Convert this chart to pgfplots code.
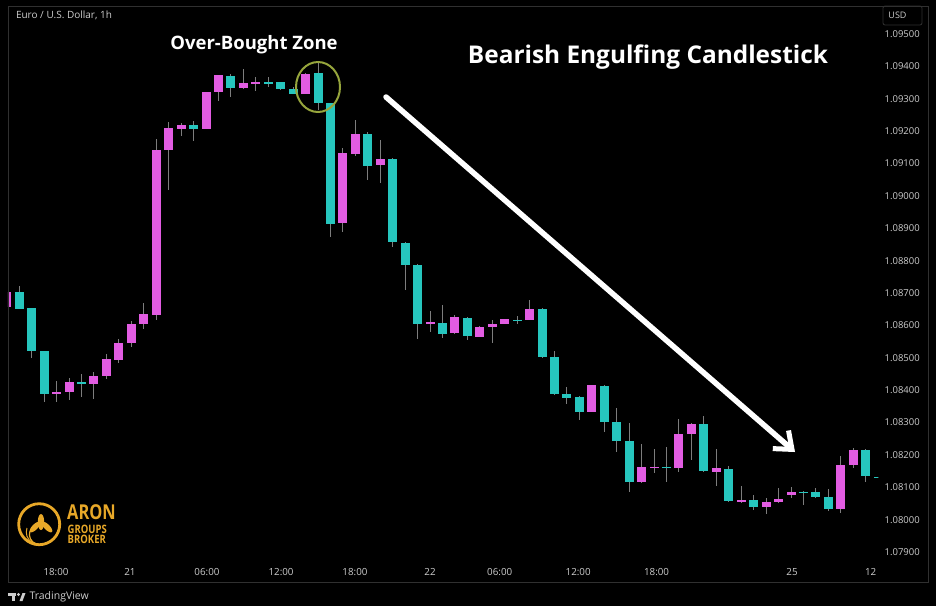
\documentclass[border=0pt]{standalone}
\usepackage{pgfplots}
\pgfplotsset{compat=1.18}
\usepackage{pgfplotstable}
\usepackage{graphicx}
\usepackage{fontspec}
\setmainfont{Open Sans}
\usetikzlibrary{arrows.meta}
\definecolor{bull}{RGB}{226,92,226}
\definecolor{bear}{RGB}{38,198,190}
\definecolor{wick}{RGB}{125,125,125}
\definecolor{framec}{RGB}{48,48,48}
\definecolor{lbl}{RGB}{205,205,205}
\definecolor{gold}{RGB}{232,168,40}
\definecolor{ringc}{RGB}{150,165,60}

% magenta (rising) candles: k open high low close
\pgfplotstableread{
k o h l c
0 1.08657 1.08706 1.08656 1.08704
4 1.08390 1.08428 1.08364 1.08396
5 1.08395 1.08438 1.08371 1.08426
7 1.08421 1.08457 1.08372 1.08445
8 1.08444 1.08511 1.08436 1.08498
9 1.08495 1.08560 1.08486 1.08547
10 1.08546 1.08614 1.08534 1.08606
11 1.08606 1.08671 1.08588 1.08635
12 1.08635 1.09178 1.08618 1.09144
13 1.09142 1.09229 1.09018 1.09209
14 1.09207 1.09226 1.09185 1.09218
16 1.09206 1.09322 1.09206 1.09322
17 1.09320 1.09372 1.09294 1.09372
19 1.09334 1.09391 1.09329 1.09351
20 1.09350 1.09368 1.09327 1.09353
24 1.09316 1.09380 1.09315 1.09379
27 1.08915 1.09147 1.08889 1.09131
28 1.09130 1.09235 1.09123 1.09193
30 1.09095 1.09172 1.09039 1.09115
34 1.08604 1.08645 1.08580 1.08610
36 1.08576 1.08632 1.08574 1.08625
38 1.08567 1.08598 1.08565 1.08596
39 1.08597 1.08618 1.08548 1.08605
40 1.08606 1.08621 1.08604 1.08619
42 1.08618 1.08680 1.08617 1.08652
47 1.08333 1.08417 1.08331 1.08415
51 1.08117 1.08235 1.08115 1.08162
52 1.08161 1.08218 1.08143 1.08164
54 1.08160 1.08313 1.08148 1.08266
55 1.08266 1.08299 1.08184 1.08297
57 1.08148 1.08218 1.08103 1.08158
59 1.08055 1.08106 1.08052 1.08060
61 1.08039 1.08068 1.08019 1.08055
62 1.08055 1.08098 1.08053 1.08065
63 1.08076 1.08103 1.08068 1.08084
67 1.08034 1.08199 1.08021 1.08168
68 1.08168 1.08222 1.08158 1.08217
}\bulltab

% cyan (falling) candles
\pgfplotstableread{
k o h l c
1 1.08704 1.08721 1.08650 1.08652
2 1.08654 1.08654 1.08501 1.08521
3 1.08521 1.08521 1.08364 1.08390
6 1.08426 1.08449 1.08379 1.08421
15 1.09218 1.09232 1.09170 1.09206
18 1.09372 1.09376 1.09306 1.09334
21 1.09353 1.09368 1.09337 1.09348
22 1.09351 1.09353 1.09328 1.09330
23 1.09330 1.09337 1.09314 1.09316
25 1.09379 1.09414 1.09267 1.09286
26 1.09288 1.09288 1.08874 1.08915
29 1.09194 1.09200 1.09049 1.09095
31 1.09115 1.09117 1.08843 1.08858
32 1.08856 1.08858 1.08709 1.08788
33 1.08788 1.08790 1.08557 1.08605
35 1.08609 1.08663 1.08563 1.08575
37 1.08625 1.08627 1.08557 1.08567
41 1.08619 1.08632 1.08607 1.08617
43 1.08652 1.08654 1.08500 1.08503
44 1.08503 1.08521 1.08388 1.08390
45 1.08388 1.08410 1.08359 1.08377
46 1.08379 1.08381 1.08309 1.08333
48 1.08415 1.08417 1.08271 1.08302
49 1.08303 1.08346 1.08209 1.08245
50 1.08245 1.08297 1.08085 1.08117
53 1.08164 1.08225 1.08117 1.08160
56 1.08297 1.08320 1.08148 1.08150
58 1.08158 1.08168 1.08055 1.08057
60 1.08060 1.08076 1.08029 1.08039
64 1.08086 1.08088 1.08045 1.08084
65 1.08086 1.08099 1.08068 1.08070
66 1.08072 1.08096 1.08027 1.08034
69 1.08217 1.08219 1.08117 1.08137
70 1.08133 1.08133 1.08131 1.08131
}\beartab

\begin{document}
\begin{tikzpicture}
\useasboundingbox (0pt,0pt) rectangle (936pt,-606pt);
\fill[black] (0pt,0pt) rectangle (936pt,-606pt);
\begin{axis}[
  at={(8pt,-582pt)}, anchor=south west,
  scale only axis, width=870pt, height=576pt,
  xmin=0.092, xmax=69.99,
  ymin=1.078073, ymax=1.095865,
  axis line style={draw=none},
  tick style={draw=none},
  major tick length=0pt,
  ytick={1.079,1.080,1.081,1.082,1.083,1.084,1.085,1.086,1.087,1.088,1.089,1.090,1.091,1.092,1.093,1.094,1.095},
  yticklabels={1.07900,1.08000,1.08100,1.08200,1.08300,1.08400,1.08500,1.08600,1.08700,1.08800,1.08900,1.09000,1.09100,1.09200,1.09300,1.09400,1.09500},
  yticklabel pos=right,
  yticklabel style={anchor=east, xshift=45.3pt, text=lbl, font=\fontsize{9.5}{11}\selectfont},
  xtick={3.95,9.89,16.08,22.03,27.97,34.0,39.6,45.9,52.2,63.08,69.4},
  xticklabels={18:00,21,06:00,12:00,18:00,22,06:00,12:00,18:00,25,12},
  xticklabel style={anchor=south, yshift=3.3pt, text=lbl, font=\fontsize{9.8}{11}\selectfont},
  clip=true,
]
% wicks
\addplot[draw=none, mark=none, forget plot, error bars/.cd, y dir=both, y explicit, error mark=none,
  error bar style={draw=wick, line width=1pt}]
  table[x=k, y expr=(\thisrow{h}+\thisrow{l})/2, y error expr=(\thisrow{h}-\thisrow{l})/2] {\bulltab};
\addplot[draw=none, mark=none, forget plot, error bars/.cd, y dir=both, y explicit, error mark=none,
  error bar style={draw=wick, line width=1pt}]
  table[x=k, y expr=(\thisrow{h}+\thisrow{l})/2, y error expr=(\thisrow{h}-\thisrow{l})/2] {\beartab};
% bodies
\addplot[draw=none, mark=none, forget plot, error bars/.cd, y dir=both, y explicit, error mark=none,
  error bar style={draw=bull, line width=9pt}]
  table[x=k, y expr=(\thisrow{o}+\thisrow{c})/2, y error expr=abs(\thisrow{c}-\thisrow{o})/2] {\bulltab};
\addplot[draw=none, mark=none, forget plot, error bars/.cd, y dir=both, y explicit, error mark=none,
  error bar style={draw=bear, line width=9pt}]
  table[x=k, y expr=(\thisrow{o}+\thisrow{c})/2, y error expr=abs(\thisrow{c}-\thisrow{o})/2] {\beartab};
\end{axis}
\begin{scope}[x=1pt,y=-1pt]
  % frame
  \draw[framec, line width=1pt] (8,6) rectangle (928,582);
  \draw[framec, line width=0.8pt, rounded corners=2pt] (883,6) rectangle (922,25);
  \node[text=lbl, font=\fontsize{9}{10}\selectfont] at (897.5,15.5) {USD};
  \node[anchor=west, text=lbl, font=\fontsize{10}{11}\selectfont] at (12.5,15) {Euro / U.S. Dollar, 1h};
  % annotations
  \node[white, font=\bfseries\fontsize{18.5}{21}\selectfont] at (254,44.5) {Over-Bought Zone};
  \node[white, font=\bfseries\fontsize{24.4}{27}\selectfont] at (648,57) {Bearish Engulfing Candlestick};
  \draw[ringc, line width=2pt] (318,87) ellipse (22 and 25);
  \draw[white, line width=5.5pt, line cap=round, -{Straight Barb[length=15pt,width=24pt,line width=5pt]}] (386,97) -- (795,452);
  % logo
  \draw[gold, line width=2.8pt] (39.2,524.2) circle (20.5);
  \fill[gold] (41,522) ellipse (3.2 and 8);
  \fill[gold, rotate around={-45:(35,527)}] (35,527) ellipse (2.8 and 7);
  \fill[gold, rotate around={45:(47,527)}] (47,527) ellipse (2.8 and 7);
  \draw[gold, line width=1.2pt] (30,531) arc[start angle=200, end angle=110, radius=10];
  \draw[gold, line width=1pt] (27,528) arc[start angle=200, end angle=120, radius=12];
  \node[anchor=west, text=gold, inner sep=0pt] at (67,512.3) {\scalebox{0.8}[1]{\bfseries\fontsize{20.5}{20.5}\selectfont ARON}};
  \node[anchor=west, text=gold, inner sep=0pt] at (67.5,529.4) {\scalebox{0.82}[1]{\bfseries\fontsize{11.6}{11.6}\selectfont GROUPS}};
  \node[anchor=west, text=gold, inner sep=0pt] at (67.5,539.8) {\scalebox{0.82}[1]{\bfseries\fontsize{11.6}{11.6}\selectfont BROKER}};
  % TradingView mark
  \fill[lbl] (8,593) rectangle (16,596);
  \fill[lbl] (11.5,596) rectangle (14.5,601);
  \fill[lbl] (18.5,594.5) circle (1.6);
  \fill[lbl] (19.5,601) -- (22.5,593) -- (25.5,593) -- (22.5,601) -- cycle;
  \node[anchor=west, text=lbl, font=\fontsize{10.5}{11}\selectfont] at (26,597) {TradingView};
\end{scope}
\end{tikzpicture}
\end{document}
